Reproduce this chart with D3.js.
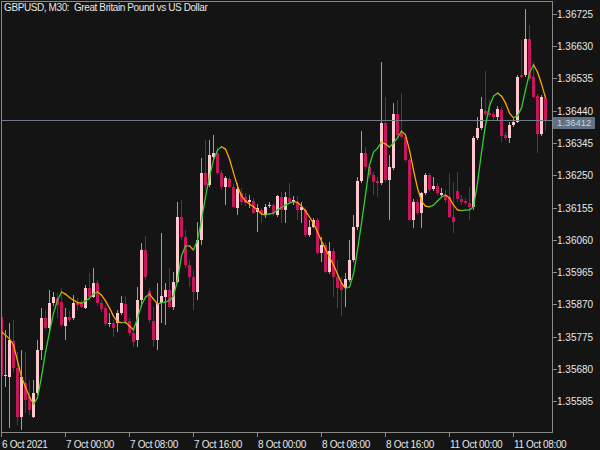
<!DOCTYPE html>
<html><head><meta charset="utf-8">
<script src="https://cdn.jsdelivr.net/npm/d3@7"></script>
<style>html,body{margin:0;padding:0;background:#141414;overflow:hidden}</style>
</head><body>
<svg id="c" width="600" height="450"></svg>
<script>
const title = "GBPUSD, M30:  Great Britain Pound vs US Dollar";
const lastPrice = 1.36412;
const priceTicks = [1.35585,1.35680,1.35775,1.35870,1.35965,1.36060,1.36155,1.36250,1.36345,1.36440,1.36535,1.36630,1.36725];
const timeLabels = ["6 Oct 2021","7 Oct 00:00","7 Oct 08:00","7 Oct 16:00","8 Oct 00:00","8 Oct 08:00","8 Oct 16:00","11 Oct 00:00","11 Oct 08:00"];
const timeLabelBars = [0,16,32,48,64,80,96,112,128];

const open = [1.35832,1.35658,1.35656,1.35762,1.35682,1.35538,1.35638,1.35597,1.35538,1.35608,
1.35735,1.35829,1.35800,1.35874,1.35888,1.35877,1.35806,1.35832,1.35829,1.35874,
1.35874,1.35859,1.35918,1.35891,1.35932,1.35874,1.35859,1.35813,1.35815,1.35815,
1.35844,1.35871,1.35821,1.35785,1.35765,1.35882,1.36030,1.35909,1.35821,1.35765,
1.35874,1.35891,1.35912,1.35862,1.35935,1.36127,1.36068,1.35986,1.35950,1.35906,
1.36059,1.36257,1.36221,1.36304,1.36316,1.36257,1.36215,1.36239,1.36215,1.36153,
1.36198,1.36186,1.36171,1.36174,1.36142,1.36148,1.36133,1.36160,1.36162,1.36133,
1.36186,1.36148,1.36183,1.36171,1.36171,1.36148,1.36148,1.36074,1.36097,1.36118,
1.36021,1.36044,1.35965,1.36027,1.35950,1.35932,1.35918,1.35941,1.36000,1.36097,
1.36233,1.36316,1.36274,1.36251,1.36233,1.36227,1.36404,1.36236,1.36271,1.36430,
1.36377,1.36363,1.36295,1.36118,1.36171,1.36139,1.36198,1.36251,1.36209,1.36218,
1.36192,1.36192,1.36186,1.36127,1.36204,1.36180,1.36174,1.36168,1.36156,1.36360,
1.36389,1.36439,1.36433,1.36430,1.36422,1.36442,1.36369,1.36360,1.36398,1.36407,
1.36545,1.36545,1.36651,1.36539,1.36483,1.36371,1.36478];

const high = [1.35841,1.35794,1.35815,1.35823,1.35729,1.35735,1.35729,1.35647,1.35647,1.35765,
1.35859,1.35853,1.35912,1.35906,1.35903,1.35918,1.35859,1.35850,1.35897,1.35888,
1.35882,1.35927,1.35962,1.35977,1.35941,1.35882,1.35868,1.35844,1.35823,1.35853,
1.35894,1.35894,1.35829,1.35803,1.35921,1.36050,1.36071,1.35918,1.35862,1.35932,
1.36080,1.35932,1.35977,1.35965,1.36171,1.36177,1.36089,1.36000,1.35971,1.36112,
1.36301,1.36354,1.36354,1.36369,1.36333,1.36265,1.36248,1.36245,1.36224,1.36227,
1.36212,1.36198,1.36192,1.36183,1.36165,1.36153,1.36165,1.36171,1.36168,1.36192,
1.36201,1.36201,1.36227,1.36189,1.36189,1.36171,1.36156,1.36118,1.36124,1.36124,
1.36068,1.36053,1.36053,1.36036,1.36000,1.35950,1.35962,1.36059,1.36133,1.36245,
1.36380,1.36333,1.36280,1.36260,1.36245,1.36584,1.36480,1.36310,1.36463,1.36472,
1.36492,1.36374,1.36301,1.36180,1.36180,1.36201,1.36257,1.36257,1.36245,1.36227,
1.36212,1.36206,1.36257,1.36230,1.36260,1.36192,1.36183,1.36215,1.36366,1.36422,
1.36480,1.36557,1.36472,1.36436,1.36454,1.36451,1.36377,1.36407,1.36416,1.36545,
1.36648,1.36740,1.36693,1.36584,1.36489,1.36486,1.36486];

const low = [1.35641,1.35626,1.35505,1.35670,1.35514,1.35499,1.35549,1.35544,1.35535,1.35603,
1.35706,1.35794,1.35791,1.35865,1.35829,1.35803,1.35765,1.35818,1.35823,1.35853,
1.35859,1.35856,1.35882,1.35888,1.35865,1.35847,1.35806,1.35803,1.35773,1.35788,
1.35838,1.35812,1.35776,1.35744,1.35744,1.35862,1.35941,1.35815,1.35744,1.35735,
1.35815,1.35809,1.35859,1.35853,1.35932,1.36059,1.35977,1.35921,1.35853,1.35882,
1.36044,1.36206,1.36215,1.36295,1.36251,1.36206,1.36162,1.36212,1.36153,1.36133,
1.36162,1.36159,1.36153,1.36136,1.36083,1.36109,1.36124,1.36153,1.36130,1.36127,
1.36109,1.36109,1.36168,1.36162,1.36118,1.36109,1.36068,1.36068,1.36095,1.36015,
1.35994,1.35962,1.35959,1.35891,1.35859,1.35835,1.35862,1.35935,1.35994,1.36089,
1.36227,1.36265,1.36242,1.36192,1.36186,1.36221,1.36230,1.36118,1.36265,1.36360,
1.36357,1.36289,1.36115,1.36095,1.36133,1.36095,1.36192,1.36201,1.36204,1.36189,
1.36186,1.36168,1.36124,1.36080,1.36171,1.36162,1.36162,1.36118,1.36148,1.36354,
1.36383,1.36425,1.36422,1.36413,1.36413,1.36348,1.36354,1.36345,1.36392,1.36404,
1.36537,1.36539,1.36528,1.36478,1.36316,1.36366,1.36380];

const close = [1.35658,1.35661,1.35765,1.35682,1.35538,1.35656,1.35588,1.35558,1.35608,1.35735,
1.35829,1.35800,1.35874,1.35891,1.35868,1.35809,1.35832,1.35823,1.35874,1.35868,
1.35862,1.35918,1.35891,1.35932,1.35874,1.35856,1.35812,1.35815,1.35800,1.35844,
1.35874,1.35821,1.35785,1.35759,1.35882,1.36030,1.35950,1.35823,1.35765,1.35874,
1.35894,1.35912,1.35862,1.35935,1.36127,1.36068,1.35986,1.35950,1.35906,1.36059,
1.36257,1.36221,1.36310,1.36316,1.36257,1.36215,1.36242,1.36215,1.36156,1.36209,
1.36171,1.36168,1.36177,1.36139,1.36153,1.36139,1.36156,1.36161,1.36139,1.36189,
1.36148,1.36186,1.36171,1.36176,1.36148,1.36156,1.36074,1.36097,1.36118,1.36021,
1.36044,1.35965,1.36027,1.35950,1.35918,1.35912,1.35944,1.36000,1.36097,1.36233,
1.36316,1.36274,1.36251,1.36230,1.36227,1.36404,1.36236,1.36274,1.36430,1.36369,
1.36363,1.36295,1.36118,1.36171,1.36139,1.36198,1.36251,1.36206,1.36218,1.36198,
1.36198,1.36177,1.36127,1.36112,1.36180,1.36171,1.36168,1.36156,1.36360,1.36389,
1.36445,1.36430,1.36428,1.36422,1.36445,1.36366,1.36360,1.36398,1.36407,1.36539,
1.36539,1.36651,1.36534,1.36480,1.36371,1.36480,1.36412];

const ma = [1.35789,1.35779,1.35768,1.35750,1.35703,1.35656,1.35626,1.35597,1.35576,1.35594,
1.35656,1.35729,1.35788,1.35844,1.35882,1.35906,1.35900,1.35890,1.35882,1.35875,
1.35873,1.35880,1.35888,1.35900,1.35906,1.35897,1.35880,1.35859,1.35835,1.35818,
1.35816,1.35817,1.35806,1.35794,1.35829,1.35868,1.35891,1.35900,1.35885,1.35871,
1.35874,1.35877,1.35881,1.35894,1.35941,1.36012,1.36042,1.36042,1.36030,1.36059,
1.36118,1.36186,1.36245,1.36295,1.36324,1.36334,1.36327,1.36298,1.36257,1.36218,
1.36189,1.36174,1.36165,1.36157,1.36148,1.36136,1.36133,1.36136,1.36138,1.36148,
1.36155,1.36162,1.36168,1.36172,1.36170,1.36159,1.36145,1.36127,1.36108,1.36083,
1.36056,1.36033,1.36009,1.35986,1.35959,1.35932,1.35917,1.35921,1.35959,1.36030,
1.36109,1.36192,1.36280,1.36318,1.36330,1.36348,1.36342,1.36333,1.36345,1.36360,
1.36380,1.36369,1.36324,1.36265,1.36212,1.36174,1.36159,1.36157,1.36162,1.36174,
1.36186,1.36192,1.36183,1.36162,1.36148,1.36146,1.36147,1.36148,1.36157,1.36227,
1.36318,1.36398,1.36454,1.36483,1.36492,1.36483,1.36463,1.36433,1.36419,1.36425,
1.36448,1.36501,1.36551,1.36575,1.36554,1.36519,1.36478];

const W = 600, H = 450;
const plotL = 1.5, plotR = 552.5, plotT = 1.5, plotB = 432.5;
const bg = "#141414", frameCol = "#8a8a8a", textCol = "#e6e6e6";
const bullBody = "#ffc8cf", bearBody = "#c8165c";
const bullWick = "#a89a9c", bearWick = "#8e1848";
const upCol = "#32cd32", downCol = "#ffa500";
const fontFam = "Liberation Sans, Arial, sans-serif";

const svg = d3.select("#c");
svg.append("rect").attr("width", W).attr("height", H).attr("fill", bg);

const n = open.length;
const x = d3.scaleLinear().domain([0, n - 1]).range([1.5, 545.5]);
const y = d3.scaleLinear().domain([1.35585, 1.36725]).range([401, 14]);

svg.append("defs").append("clipPath").attr("id", "clip")
  .append("rect").attr("x", plotL).attr("y", plotT).attr("width", plotR - plotL).attr("height", plotB - plotT);

const plot = svg.append("g").attr("clip-path", "url(#clip)").attr("shape-rendering", "crispEdges");
const idx = d3.range(n);

// wicks
plot.selectAll("rect.wick").data(idx).join("rect").attr("class", "wick")
  .attr("x", i => x(i) - 0.5).attr("width", 1)
  .attr("y", i => y(high[i]))
  .attr("height", i => Math.max(1, y(low[i]) - y(high[i])))
  .attr("fill", i => close[i] >= open[i] ? bullWick : bearWick);

// bodies
plot.selectAll("rect.body").data(idx).join("rect").attr("class", "body")
  .attr("x", i => x(i) - 1.5).attr("width", 3)
  .attr("y", i => y(Math.max(open[i], close[i])))
  .attr("height", i => Math.max(1, Math.abs(y(open[i]) - y(close[i]))))
  .attr("fill", i => close[i] >= open[i] ? bullBody : bearBody);

// current price line
const lpY = Math.round(y(lastPrice)) + 0.5;
plot.append("line").attr("x1", plotL).attr("x2", plotR)
  .attr("y1", lpY).attr("y2", lpY)
  .attr("stroke", "#6f7a86").attr("stroke-width", 1);

// moving average, coloured by slope
const maG = svg.append("g").attr("clip-path", "url(#clip)");
for (let i = 0; i < n - 1; i++) {
  maG.append("line")
    .attr("x1", x(i)).attr("y1", y(ma[i]))
    .attr("x2", x(i + 1)).attr("y2", y(ma[i + 1]))
    .attr("stroke", ma[i + 1] >= ma[i] ? upCol : downCol)
    .attr("stroke-width", 1.3).attr("stroke-linecap", "round");
}

// frame
const fr = svg.append("g").attr("shape-rendering", "crispEdges").attr("stroke", frameCol).attr("fill", "none");
fr.append("rect").attr("x", plotL).attr("y", plotT).attr("width", plotR - plotL).attr("height", plotB - plotT);

// y axis
const ya = svg.append("g");
priceTicks.forEach(p => {
  const yy = Math.round(y(p)) + 0.5;
  ya.append("line").attr("x1", plotR).attr("x2", plotR + 4).attr("y1", yy).attr("y2", yy)
    .attr("stroke", frameCol).attr("shape-rendering", "crispEdges");
  ya.append("text").attr("x", 557).attr("y", yy + 3).text(p.toFixed(5))
    .attr("fill", textCol).attr("font-family", fontFam).attr("font-size", "10px");
});

// x axis
const xa = svg.append("g");
timeLabelBars.forEach((b, k) => {
  const xx = Math.round(x(b) - 0.5) + 0.5;
  xa.append("line").attr("x1", xx).attr("x2", xx).attr("y1", plotB).attr("y2", plotB + 4)
    .attr("stroke", frameCol).attr("shape-rendering", "crispEdges");
  xa.append("text").attr("x", xx + 0.5).attr("y", 448).text(timeLabels[k])
    .attr("fill", textCol).attr("font-family", fontFam)
    .attr("font-size", "10px").attr("letter-spacing", "-0.35px");
});

// last price label
svg.append("rect").attr("x", 553).attr("y", lpY - 4).attr("width", 42).attr("height", 12)
  .attr("fill", "#5f7285").attr("shape-rendering", "crispEdges");
svg.append("text").attr("x", 557).attr("y", lpY + 5.5).text(lastPrice.toFixed(5))
  .attr("fill", "#c9d1d9").attr("font-family", fontFam).attr("font-size", "9.5px");

// title
svg.append("text").attr("x", 4).attr("y", 11).text(title)
  .attr("fill", textCol).attr("font-family", fontFam)
  .attr("font-size", "10px").attr("letter-spacing", "-0.4px").style("white-space", "pre");
</script>
</body></html>
